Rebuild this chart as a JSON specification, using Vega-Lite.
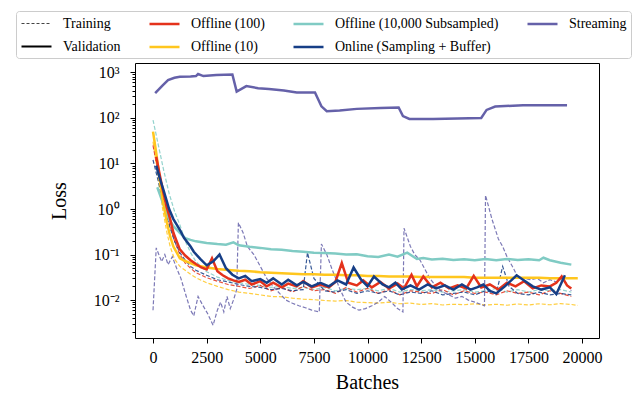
{
"$schema": "https://vega.github.io/schema/vega-lite/v6.json",
"width": 464, "height": 275,
"autosize": {"type": "none"},
"padding": {"left": 135, "top": 63, "right": 36, "bottom": 57},
"config": {
 "font": "Liberation Serif",
 "view": {"stroke": "black", "strokeWidth": 1},
 "axis": {"labelFont": "Liberation Serif", "titleFont": "Liberation Serif", "labelColor": "black", "titleColor": "black", "tickColor": "black", "domainColor": "black", "grid": false, "titleFontWeight": "normal", "labelFontSize": 16, "titleFontSize": 20}
},
"datasets": {"d": [
{"s":"t","k":"T","b":0,"v":90},{"s":"t","k":"T","b":250,"v":25},{"s":"t","k":"T","b":500,"v":7},{"s":"t","k":"T","b":750,"v":2.2},{"s":"t","k":"T","b":1000,"v":0.9},{"s":"t","k":"T","b":1250,"v":0.45},{"s":"t","k":"T","b":1500,"v":0.2},{"s":"t","k":"T","b":1750,"v":0.11},{"s":"t","k":"T","b":2000,"v":0.07},{"s":"t","k":"T","b":2500,"v":0.042},{"s":"t","k":"T","b":3000,"v":0.032},{"s":"t","k":"T","b":3500,"v":0.027},{"s":"t","k":"T","b":4000,"v":0.024},{"s":"t","k":"T","b":4500,"v":0.022},{"s":"t","k":"T","b":5000,"v":0.021},{"s":"t","k":"T","b":5500,"v":0.019},{"s":"t","k":"T","b":6000,"v":0.02},{"s":"t","k":"T","b":6500,"v":0.018},{"s":"t","k":"T","b":7000,"v":0.019},{"s":"t","k":"T","b":7500,"v":0.017},{"s":"t","k":"T","b":8000,"v":0.019},{"s":"t","k":"T","b":8500,"v":0.016},{"s":"t","k":"T","b":9000,"v":0.018},{"s":"t","k":"T","b":9500,"v":0.017},{"s":"t","k":"T","b":10000,"v":0.018},{"s":"t","k":"T","b":10500,"v":0.016},{"s":"t","k":"T","b":11000,"v":0.018},{"s":"t","k":"T","b":11500,"v":0.015},{"s":"t","k":"T","b":12000,"v":0.017},{"s":"t","k":"T","b":12500,"v":0.016},{"s":"t","k":"T","b":13000,"v":0.017},{"s":"t","k":"T","b":13500,"v":0.015},{"s":"t","k":"T","b":14000,"v":0.016},{"s":"t","k":"T","b":14500,"v":0.017},{"s":"t","k":"T","b":15000,"v":0.015},{"s":"t","k":"T","b":15500,"v":0.016},{"s":"t","k":"T","b":16000,"v":0.018},{"s":"t","k":"T","b":16500,"v":0.015},{"s":"t","k":"T","b":17000,"v":0.017},{"s":"t","k":"T","b":17500,"v":0.015},{"s":"t","k":"T","b":18000,"v":0.017},{"s":"t","k":"T","b":18500,"v":0.016},{"s":"t","k":"T","b":19000,"v":0.017},{"s":"t","k":"T","b":19500,"v":0.015},
{"s":"y","k":"T","b":0,"v":30},{"s":"y","k":"T","b":150,"v":10},{"s":"y","k":"T","b":300,"v":3},{"s":"y","k":"T","b":450,"v":1},{"s":"y","k":"T","b":650,"v":0.3},{"s":"y","k":"T","b":800,"v":0.15},{"s":"y","k":"T","b":1000,"v":0.08},{"s":"y","k":"T","b":1250,"v":0.055},{"s":"y","k":"T","b":1500,"v":0.045},{"s":"y","k":"T","b":1750,"v":0.037},{"s":"y","k":"T","b":2000,"v":0.031},{"s":"y","k":"T","b":2500,"v":0.024},{"s":"y","k":"T","b":3000,"v":0.02},{"s":"y","k":"T","b":3500,"v":0.017},{"s":"y","k":"T","b":4000,"v":0.015},{"s":"y","k":"T","b":4500,"v":0.014},{"s":"y","k":"T","b":5000,"v":0.013},{"s":"y","k":"T","b":5500,"v":0.012},{"s":"y","k":"T","b":6000,"v":0.0118},{"s":"y","k":"T","b":6500,"v":0.011},{"s":"y","k":"T","b":7000,"v":0.0105},{"s":"y","k":"T","b":7500,"v":0.0102},{"s":"y","k":"T","b":8000,"v":0.0098},{"s":"y","k":"T","b":8500,"v":0.0095},{"s":"y","k":"T","b":9000,"v":0.0098},{"s":"y","k":"T","b":9500,"v":0.009},{"s":"y","k":"T","b":10000,"v":0.0088},{"s":"y","k":"T","b":10500,"v":0.0086},{"s":"y","k":"T","b":11000,"v":0.009},{"s":"y","k":"T","b":11500,"v":0.0083},{"s":"y","k":"T","b":12000,"v":0.0086},{"s":"y","k":"T","b":12500,"v":0.008},{"s":"y","k":"T","b":13000,"v":0.0084},{"s":"y","k":"T","b":13500,"v":0.0078},{"s":"y","k":"T","b":14000,"v":0.0081},{"s":"y","k":"T","b":14500,"v":0.0079},{"s":"y","k":"T","b":15000,"v":0.0083},{"s":"y","k":"T","b":15500,"v":0.0078},{"s":"y","k":"T","b":16000,"v":0.0081},{"s":"y","k":"T","b":16500,"v":0.0077},{"s":"y","k":"T","b":17000,"v":0.0082},{"s":"y","k":"T","b":17500,"v":0.0078},{"s":"y","k":"T","b":18000,"v":0.0083},{"s":"y","k":"T","b":18500,"v":0.0079},{"s":"y","k":"T","b":19000,"v":0.0084},{"s":"y","k":"T","b":19500,"v":0.008},{"s":"y","k":"T","b":19800,"v":0.0076},
{"s":"r","k":"T","b":0,"v":25},{"s":"r","k":"T","b":250,"v":6},{"s":"r","k":"T","b":500,"v":1.5},{"s":"r","k":"T","b":750,"v":0.5},{"s":"r","k":"T","b":1000,"v":0.2},{"s":"r","k":"T","b":1250,"v":0.1},{"s":"r","k":"T","b":1500,"v":0.065},{"s":"r","k":"T","b":1750,"v":0.05},{"s":"r","k":"T","b":2000,"v":0.04},{"s":"r","k":"T","b":2500,"v":0.031},{"s":"r","k":"T","b":3000,"v":0.026},{"s":"r","k":"T","b":3500,"v":0.022},{"s":"r","k":"T","b":4000,"v":0.02},{"s":"r","k":"T","b":4500,"v":0.018},{"s":"r","k":"T","b":5000,"v":0.021},{"s":"r","k":"T","b":5500,"v":0.016},{"s":"r","k":"T","b":6000,"v":0.019},{"s":"r","k":"T","b":6500,"v":0.015},{"s":"r","k":"T","b":7000,"v":0.02},{"s":"r","k":"T","b":7500,"v":0.016},{"s":"r","k":"T","b":8000,"v":0.017},{"s":"r","k":"T","b":8500,"v":0.014},{"s":"r","k":"T","b":9000,"v":0.019},{"s":"r","k":"T","b":9500,"v":0.015},{"s":"r","k":"T","b":10000,"v":0.018},{"s":"r","k":"T","b":10500,"v":0.014},{"s":"r","k":"T","b":11000,"v":0.017},{"s":"r","k":"T","b":11500,"v":0.013},{"s":"r","k":"T","b":12000,"v":0.016},{"s":"r","k":"T","b":12500,"v":0.015},{"s":"r","k":"T","b":13000,"v":0.014},{"s":"r","k":"T","b":13500,"v":0.017},{"s":"r","k":"T","b":14000,"v":0.013},{"s":"r","k":"T","b":14500,"v":0.016},{"s":"r","k":"T","b":15000,"v":0.014},{"s":"r","k":"T","b":15500,"v":0.015},{"s":"r","k":"T","b":16000,"v":0.013},{"s":"r","k":"T","b":16500,"v":0.016},{"s":"r","k":"T","b":17000,"v":0.014},{"s":"r","k":"T","b":17500,"v":0.015},{"s":"r","k":"T","b":18000,"v":0.013},{"s":"r","k":"T","b":18500,"v":0.016},{"s":"r","k":"T","b":19000,"v":0.014},{"s":"r","k":"T","b":19500,"v":0.012},
{"s":"n","k":"T","b":0,"v":12},{"s":"n","k":"T","b":250,"v":4},{"s":"n","k":"T","b":500,"v":1.2},{"s":"n","k":"T","b":750,"v":0.45},{"s":"n","k":"T","b":1000,"v":0.2},{"s":"n","k":"T","b":1250,"v":0.11},{"s":"n","k":"T","b":1500,"v":0.075},{"s":"n","k":"T","b":1750,"v":0.055},{"s":"n","k":"T","b":2000,"v":0.045},{"s":"n","k":"T","b":2500,"v":0.035},{"s":"n","k":"T","b":3000,"v":0.028},{"s":"n","k":"T","b":3500,"v":0.025},{"s":"n","k":"T","b":4000,"v":0.022},{"s":"n","k":"T","b":4500,"v":0.02},{"s":"n","k":"T","b":5000,"v":0.019},{"s":"n","k":"T","b":5500,"v":0.017},{"s":"n","k":"T","b":6000,"v":0.018},{"s":"n","k":"T","b":6500,"v":0.016},{"s":"n","k":"T","b":7000,"v":0.017},{"s":"n","k":"T","b":7200,"v":0.11},{"s":"n","k":"T","b":7500,"v":0.03},{"s":"n","k":"T","b":8000,"v":0.016},{"s":"n","k":"T","b":8500,"v":0.015},{"s":"n","k":"T","b":9000,"v":0.017},{"s":"n","k":"T","b":9500,"v":0.014},{"s":"n","k":"T","b":10000,"v":0.016},{"s":"n","k":"T","b":10500,"v":0.014},{"s":"n","k":"T","b":11000,"v":0.016},{"s":"n","k":"T","b":11500,"v":0.013},{"s":"n","k":"T","b":12000,"v":0.015},{"s":"n","k":"T","b":12500,"v":0.014},{"s":"n","k":"T","b":13000,"v":0.016},{"s":"n","k":"T","b":13500,"v":0.013},{"s":"n","k":"T","b":14000,"v":0.014},{"s":"n","k":"T","b":14500,"v":0.015},{"s":"n","k":"T","b":15000,"v":0.013},{"s":"n","k":"T","b":15500,"v":0.016},{"s":"n","k":"T","b":16000,"v":0.014},{"s":"n","k":"T","b":16300,"v":0.055},{"s":"n","k":"T","b":16600,"v":0.02},{"s":"n","k":"T","b":17000,"v":0.014},{"s":"n","k":"T","b":17500,"v":0.013},{"s":"n","k":"T","b":18000,"v":0.015},{"s":"n","k":"T","b":18500,"v":0.013},{"s":"n","k":"T","b":19000,"v":0.014},{"s":"n","k":"T","b":19500,"v":0.013},
{"s":"p","k":"T","b":0,"v":0.006},{"s":"p","k":"T","b":150,"v":0.14},{"s":"p","k":"T","b":400,"v":0.07},{"s":"p","k":"T","b":550,"v":0.1},{"s":"p","k":"T","b":700,"v":0.06},{"s":"p","k":"T","b":900,"v":0.09},{"s":"p","k":"T","b":1100,"v":0.05},{"s":"p","k":"T","b":1300,"v":0.03},{"s":"p","k":"T","b":1550,"v":0.012},{"s":"p","k":"T","b":1750,"v":0.006},{"s":"p","k":"T","b":1900,"v":0.0045},{"s":"p","k":"T","b":2100,"v":0.012},{"s":"p","k":"T","b":2300,"v":0.008},{"s":"p","k":"T","b":2550,"v":0.005},{"s":"p","k":"T","b":2800,"v":0.0028},{"s":"p","k":"T","b":3000,"v":0.006},{"s":"p","k":"T","b":3150,"v":0.009},{"s":"p","k":"T","b":3300,"v":0.0055},{"s":"p","k":"T","b":3450,"v":0.012},{"s":"p","k":"T","b":3600,"v":0.0065},{"s":"p","k":"T","b":3750,"v":0.01},{"s":"p","k":"T","b":3900,"v":0.017},{"s":"p","k":"T","b":3980,"v":0.5},{"s":"p","k":"T","b":4200,"v":0.3},{"s":"p","k":"T","b":4400,"v":0.15},{"s":"p","k":"T","b":4700,"v":0.1},{"s":"p","k":"T","b":5000,"v":0.055},{"s":"p","k":"T","b":5300,"v":0.03},{"s":"p","k":"T","b":5600,"v":0.02},{"s":"p","k":"T","b":5900,"v":0.014},{"s":"p","k":"T","b":6200,"v":0.01},{"s":"p","k":"T","b":6500,"v":0.0085},{"s":"p","k":"T","b":6800,"v":0.0075},{"s":"p","k":"T","b":7100,"v":0.0068},{"s":"p","k":"T","b":7400,"v":0.006},{"s":"p","k":"T","b":7750,"v":0.0055},{"s":"p","k":"T","b":7850,"v":0.17},{"s":"p","k":"T","b":8100,"v":0.1},{"s":"p","k":"T","b":8350,"v":0.047},{"s":"p","k":"T","b":8700,"v":0.018},{"s":"p","k":"T","b":9000,"v":0.009},{"s":"p","k":"T","b":9300,"v":0.007},{"s":"p","k":"T","b":9600,"v":0.006},{"s":"p","k":"T","b":9900,"v":0.0065},{"s":"p","k":"T","b":10200,"v":0.0075},{"s":"p","k":"T","b":10500,"v":0.009},{"s":"p","k":"T","b":10800,"v":0.012},{"s":"p","k":"T","b":11100,"v":0.009},{"s":"p","k":"T","b":11400,"v":0.0065},{"s":"p","k":"T","b":11650,"v":0.0055},{"s":"p","k":"T","b":11700,"v":0.38},{"s":"p","k":"T","b":12000,"v":0.15},{"s":"p","k":"T","b":12200,"v":0.1},{"s":"p","k":"T","b":12450,"v":0.075},{"s":"p","k":"T","b":12700,"v":0.045},{"s":"p","k":"T","b":12900,"v":0.03},{"s":"p","k":"T","b":13200,"v":0.02},{"s":"p","k":"T","b":13500,"v":0.015},{"s":"p","k":"T","b":13800,"v":0.013},{"s":"p","k":"T","b":14100,"v":0.011},{"s":"p","k":"T","b":14400,"v":0.012},{"s":"p","k":"T","b":14700,"v":0.01},{"s":"p","k":"T","b":15000,"v":0.009},{"s":"p","k":"T","b":15300,"v":0.008},{"s":"p","k":"T","b":15450,"v":0.0075},{"s":"p","k":"T","b":15500,"v":2.0},{"s":"p","k":"T","b":15800,"v":0.6},{"s":"p","k":"T","b":16100,"v":0.22},{"s":"p","k":"T","b":16300,"v":0.15},{"s":"p","k":"T","b":16500,"v":0.09},{"s":"p","k":"T","b":16800,"v":0.05},{"s":"p","k":"T","b":17000,"v":0.032},{"s":"p","k":"T","b":17300,"v":0.03},{"s":"p","k":"T","b":17600,"v":0.028},{"s":"p","k":"T","b":17900,"v":0.03},{"s":"p","k":"T","b":18200,"v":0.024},{"s":"p","k":"T","b":18500,"v":0.028},{"s":"p","k":"T","b":18800,"v":0.025},{"s":"p","k":"T","b":19100,"v":0.03},{"s":"p","k":"T","b":19300,"v":0.022},{"s":"p","k":"T","b":19500,"v":0.016},
{"s":"t","k":"V","b":200,"v":3},{"s":"t","k":"V","b":500,"v":1.2},{"s":"t","k":"V","b":750,"v":0.6},{"s":"t","k":"V","b":950,"v":0.42},{"s":"t","k":"V","b":1250,"v":0.3},{"s":"t","k":"V","b":1500,"v":0.23},{"s":"t","k":"V","b":1750,"v":0.21},{"s":"t","k":"V","b":2000,"v":0.195},{"s":"t","k":"V","b":2500,"v":0.18},{"s":"t","k":"V","b":3000,"v":0.17},{"s":"t","k":"V","b":3400,"v":0.165},{"s":"t","k":"V","b":3750,"v":0.185},{"s":"t","k":"V","b":4000,"v":0.16},{"s":"t","k":"V","b":4500,"v":0.148},{"s":"t","k":"V","b":5000,"v":0.14},{"s":"t","k":"V","b":5500,"v":0.13},{"s":"t","k":"V","b":6000,"v":0.128},{"s":"t","k":"V","b":6500,"v":0.12},{"s":"t","k":"V","b":7000,"v":0.115},{"s":"t","k":"V","b":7500,"v":0.11},{"s":"t","k":"V","b":8000,"v":0.108},{"s":"t","k":"V","b":8500,"v":0.105},{"s":"t","k":"V","b":9000,"v":0.1},{"s":"t","k":"V","b":9500,"v":0.102},{"s":"t","k":"V","b":10000,"v":0.092},{"s":"t","k":"V","b":10500,"v":0.088},{"s":"t","k":"V","b":11000,"v":0.1},{"s":"t","k":"V","b":11400,"v":0.09},{"s":"t","k":"V","b":11850,"v":0.11},{"s":"t","k":"V","b":12300,"v":0.08},{"s":"t","k":"V","b":12600,"v":0.084},{"s":"t","k":"V","b":13000,"v":0.078},{"s":"t","k":"V","b":13500,"v":0.081},{"s":"t","k":"V","b":14000,"v":0.076},{"s":"t","k":"V","b":14500,"v":0.079},{"s":"t","k":"V","b":15000,"v":0.075},{"s":"t","k":"V","b":15500,"v":0.08},{"s":"t","k":"V","b":16000,"v":0.075},{"s":"t","k":"V","b":16500,"v":0.08},{"s":"t","k":"V","b":17000,"v":0.076},{"s":"t","k":"V","b":17500,"v":0.079},{"s":"t","k":"V","b":18000,"v":0.075},{"s":"t","k":"V","b":18200,"v":0.085},{"s":"t","k":"V","b":18500,"v":0.075},{"s":"t","k":"V","b":19000,"v":0.066},{"s":"t","k":"V","b":19500,"v":0.06},
{"s":"y","k":"V","b":0,"v":50},{"s":"y","k":"V","b":150,"v":17},{"s":"y","k":"V","b":300,"v":5},{"s":"y","k":"V","b":450,"v":1.6},{"s":"y","k":"V","b":650,"v":0.5},{"s":"y","k":"V","b":800,"v":0.25},{"s":"y","k":"V","b":950,"v":0.15},{"s":"y","k":"V","b":1250,"v":0.083},{"s":"y","k":"V","b":1500,"v":0.072},{"s":"y","k":"V","b":1750,"v":0.065},{"s":"y","k":"V","b":2000,"v":0.058},{"s":"y","k":"V","b":2500,"v":0.052},{"s":"y","k":"V","b":3000,"v":0.048},{"s":"y","k":"V","b":3500,"v":0.046},{"s":"y","k":"V","b":4000,"v":0.044},{"s":"y","k":"V","b":4500,"v":0.043},{"s":"y","k":"V","b":5000,"v":0.041},{"s":"y","k":"V","b":5500,"v":0.04},{"s":"y","k":"V","b":6000,"v":0.039},{"s":"y","k":"V","b":6500,"v":0.038},{"s":"y","k":"V","b":7000,"v":0.037},{"s":"y","k":"V","b":7500,"v":0.037},{"s":"y","k":"V","b":8000,"v":0.036},{"s":"y","k":"V","b":8500,"v":0.036},{"s":"y","k":"V","b":9000,"v":0.035},{"s":"y","k":"V","b":9500,"v":0.035},{"s":"y","k":"V","b":10000,"v":0.034},{"s":"y","k":"V","b":10500,"v":0.034},{"s":"y","k":"V","b":11000,"v":0.033},{"s":"y","k":"V","b":11500,"v":0.033},{"s":"y","k":"V","b":12000,"v":0.033},{"s":"y","k":"V","b":12500,"v":0.032},{"s":"y","k":"V","b":13000,"v":0.032},{"s":"y","k":"V","b":13500,"v":0.032},{"s":"y","k":"V","b":14000,"v":0.032},{"s":"y","k":"V","b":14500,"v":0.032},{"s":"y","k":"V","b":15000,"v":0.031},{"s":"y","k":"V","b":15500,"v":0.031},{"s":"y","k":"V","b":16000,"v":0.031},{"s":"y","k":"V","b":16500,"v":0.031},{"s":"y","k":"V","b":17000,"v":0.031},{"s":"y","k":"V","b":17500,"v":0.031},{"s":"y","k":"V","b":18000,"v":0.031},{"s":"y","k":"V","b":18500,"v":0.03},{"s":"y","k":"V","b":19000,"v":0.03},{"s":"y","k":"V","b":19500,"v":0.03},{"s":"y","k":"V","b":19800,"v":0.03},
{"s":"r","k":"V","b":150,"v":14},{"s":"r","k":"V","b":300,"v":6},{"s":"r","k":"V","b":480,"v":2.3},{"s":"r","k":"V","b":640,"v":1.1},{"s":"r","k":"V","b":800,"v":0.6},{"s":"r","k":"V","b":950,"v":0.3},{"s":"r","k":"V","b":1250,"v":0.13},{"s":"r","k":"V","b":1500,"v":0.095},{"s":"r","k":"V","b":1750,"v":0.075},{"s":"r","k":"V","b":2000,"v":0.062},{"s":"r","k":"V","b":2250,"v":0.052},{"s":"r","k":"V","b":2500,"v":0.047},{"s":"r","k":"V","b":2750,"v":0.083},{"s":"r","k":"V","b":3000,"v":0.043},{"s":"r","k":"V","b":3250,"v":0.035},{"s":"r","k":"V","b":3500,"v":0.03},{"s":"r","k":"V","b":3750,"v":0.027},{"s":"r","k":"V","b":4000,"v":0.025},{"s":"r","k":"V","b":4300,"v":0.028},{"s":"r","k":"V","b":4600,"v":0.022},{"s":"r","k":"V","b":5000,"v":0.026},{"s":"r","k":"V","b":5300,"v":0.02},{"s":"r","k":"V","b":5600,"v":0.024},{"s":"r","k":"V","b":6000,"v":0.019},{"s":"r","k":"V","b":6300,"v":0.023},{"s":"r","k":"V","b":6700,"v":0.02},{"s":"r","k":"V","b":7000,"v":0.026},{"s":"r","k":"V","b":7400,"v":0.019},{"s":"r","k":"V","b":7800,"v":0.022},{"s":"r","k":"V","b":8200,"v":0.019},{"s":"r","k":"V","b":8500,"v":0.025},{"s":"r","k":"V","b":8800,"v":0.065},{"s":"r","k":"V","b":9100,"v":0.024},{"s":"r","k":"V","b":9500,"v":0.021},{"s":"r","k":"V","b":9800,"v":0.027},{"s":"r","k":"V","b":10200,"v":0.019},{"s":"r","k":"V","b":10600,"v":0.025},{"s":"r","k":"V","b":11000,"v":0.018},{"s":"r","k":"V","b":11400,"v":0.023},{"s":"r","k":"V","b":11700,"v":0.018},{"s":"r","k":"V","b":12050,"v":0.036},{"s":"r","k":"V","b":12300,"v":0.02},{"s":"r","k":"V","b":12600,"v":0.033},{"s":"r","k":"V","b":13000,"v":0.019},{"s":"r","k":"V","b":13400,"v":0.024},{"s":"r","k":"V","b":13800,"v":0.018},{"s":"r","k":"V","b":14200,"v":0.021},{"s":"r","k":"V","b":14600,"v":0.018},{"s":"r","k":"V","b":14950,"v":0.034},{"s":"r","k":"V","b":15300,"v":0.019},{"s":"r","k":"V","b":15700,"v":0.022},{"s":"r","k":"V","b":16100,"v":0.017},{"s":"r","k":"V","b":16500,"v":0.024},{"s":"r","k":"V","b":16900,"v":0.02},{"s":"r","k":"V","b":17300,"v":0.026},{"s":"r","k":"V","b":17700,"v":0.018},{"s":"r","k":"V","b":18100,"v":0.021},{"s":"r","k":"V","b":18500,"v":0.02},{"s":"r","k":"V","b":18800,"v":0.024},{"s":"r","k":"V","b":19050,"v":0.033},{"s":"r","k":"V","b":19300,"v":0.021},{"s":"r","k":"V","b":19500,"v":0.018},
{"s":"n","k":"V","b":150,"v":9},{"s":"n","k":"V","b":300,"v":5},{"s":"n","k":"V","b":500,"v":2.5},{"s":"n","k":"V","b":750,"v":1.0},{"s":"n","k":"V","b":950,"v":0.6},{"s":"n","k":"V","b":1250,"v":0.35},{"s":"n","k":"V","b":1450,"v":0.23},{"s":"n","k":"V","b":1750,"v":0.15},{"s":"n","k":"V","b":1900,"v":0.115},{"s":"n","k":"V","b":2200,"v":0.08},{"s":"n","k":"V","b":2500,"v":0.058},{"s":"n","k":"V","b":2800,"v":0.07},{"s":"n","k":"V","b":3100,"v":0.1},{"s":"n","k":"V","b":3400,"v":0.05},{"s":"n","k":"V","b":3700,"v":0.036},{"s":"n","k":"V","b":4000,"v":0.03},{"s":"n","k":"V","b":4300,"v":0.034},{"s":"n","k":"V","b":4600,"v":0.026},{"s":"n","k":"V","b":5000,"v":0.029},{"s":"n","k":"V","b":5300,"v":0.024},{"s":"n","k":"V","b":5600,"v":0.03},{"s":"n","k":"V","b":6000,"v":0.022},{"s":"n","k":"V","b":6300,"v":0.028},{"s":"n","k":"V","b":6700,"v":0.021},{"s":"n","k":"V","b":7000,"v":0.025},{"s":"n","k":"V","b":7400,"v":0.02},{"s":"n","k":"V","b":7800,"v":0.024},{"s":"n","k":"V","b":8200,"v":0.02},{"s":"n","k":"V","b":8600,"v":0.027},{"s":"n","k":"V","b":9000,"v":0.022},{"s":"n","k":"V","b":9350,"v":0.052},{"s":"n","k":"V","b":9700,"v":0.028},{"s":"n","k":"V","b":10000,"v":0.02},{"s":"n","k":"V","b":10300,"v":0.033},{"s":"n","k":"V","b":10700,"v":0.022},{"s":"n","k":"V","b":11000,"v":0.019},{"s":"n","k":"V","b":11300,"v":0.024},{"s":"n","k":"V","b":11600,"v":0.017},{"s":"n","k":"V","b":12000,"v":0.021},{"s":"n","k":"V","b":12400,"v":0.017},{"s":"n","k":"V","b":12800,"v":0.022},{"s":"n","k":"V","b":13200,"v":0.018},{"s":"n","k":"V","b":13600,"v":0.021},{"s":"n","k":"V","b":14000,"v":0.017},{"s":"n","k":"V","b":14400,"v":0.022},{"s":"n","k":"V","b":14800,"v":0.017},{"s":"n","k":"V","b":15100,"v":0.019},{"s":"n","k":"V","b":15400,"v":0.022},{"s":"n","k":"V","b":15700,"v":0.016},{"s":"n","k":"V","b":16000,"v":0.014},{"s":"n","k":"V","b":16400,"v":0.02},{"s":"n","k":"V","b":16950,"v":0.035},{"s":"n","k":"V","b":17300,"v":0.027},{"s":"n","k":"V","b":17700,"v":0.02},{"s":"n","k":"V","b":18100,"v":0.017},{"s":"n","k":"V","b":18500,"v":0.019},{"s":"n","k":"V","b":18800,"v":0.0135},{"s":"n","k":"V","b":19200,"v":0.035},
{"s":"p","k":"V","b":100,"v":350},{"s":"p","k":"V","b":450,"v":520},{"s":"p","k":"V","b":700,"v":680},{"s":"p","k":"V","b":1000,"v":760},{"s":"p","k":"V","b":1250,"v":800},{"s":"p","k":"V","b":1750,"v":810},{"s":"p","k":"V","b":2000,"v":830},{"s":"p","k":"V","b":2100,"v":920},{"s":"p","k":"V","b":2350,"v":830},{"s":"p","k":"V","b":2950,"v":880},{"s":"p","k":"V","b":3700,"v":900},{"s":"p","k":"V","b":3900,"v":380},{"s":"p","k":"V","b":4350,"v":500},{"s":"p","k":"V","b":4900,"v":450},{"s":"p","k":"V","b":5400,"v":430},{"s":"p","k":"V","b":6100,"v":400},{"s":"p","k":"V","b":6700,"v":360},{"s":"p","k":"V","b":7550,"v":360},{"s":"p","k":"V","b":7850,"v":180},{"s":"p","k":"V","b":8100,"v":140},{"s":"p","k":"V","b":8700,"v":145},{"s":"p","k":"V","b":9500,"v":158},{"s":"p","k":"V","b":10600,"v":165},{"s":"p","k":"V","b":11450,"v":170},{"s":"p","k":"V","b":11650,"v":110},{"s":"p","k":"V","b":11950,"v":95},{"s":"p","k":"V","b":13050,"v":95},{"s":"p","k":"V","b":15300,"v":100},{"s":"p","k":"V","b":15550,"v":150},{"s":"p","k":"V","b":15950,"v":178},{"s":"p","k":"V","b":17250,"v":190},{"s":"p","k":"V","b":19300,"v":190}
]},
"resolve": {"scale": {"color": "independent", "strokeDash": "independent", "strokeWidth": "independent"}, "axis": {"y": "independent"}},
"layer": [
 {
  "data": {"name": "d"},
  "transform": [{"filter": "datum.k == 'T'"}],
  "mark": {"type": "line", "strokeWidth": 1.2, "strokeDash": [4, 2], "opacity": 0.85},
  "encoding": {
   "x": {"field": "b", "type": "quantitative", "scale": {"domain": [-840, 20790], "nice": false, "zero": false}},
   "y": {"field": "v", "type": "quantitative", "scale": {"type": "log", "domain": [0.00147, 1607], "nice": false}, "axis": null},
   "color": {"field": "s", "type": "nominal", "scale": {"domain": ["t", "y", "r", "n", "p"], "range": ["#80cbc4", "#ffc61e", "#e4321b", "#163e86", "#6561a9"]}, "legend": null}
  }
 },
 {
  "data": {"name": "d"},
  "transform": [{"filter": "datum.k == 'V'"}],
  "mark": {"type": "line", "strokeWidth": 2.5},
  "encoding": {
   "x": {"field": "b", "type": "quantitative", "scale": {"domain": [-840, 20790], "nice": false, "zero": false}, "axis": {"values": [0, 2500, 5000, 7500, 10000, 12500, 15000, 17500, 20000], "format": "d", "labelOverlap": false, "labelFlush": false, "tickSize": 5, "labelPadding": 6, "domain": false, "title": "Batches", "titlePadding": 7}},
   "y": {"field": "v", "type": "quantitative", "scale": {"type": "log", "domain": [0.00147, 1607], "nice": false}, "axis": {"orient": "left", "values": [0.01, 0.1, 1, 10, 100, 1000], "labelExpr": "datum.value > 500 ? '10³' : datum.value > 50 ? '10²' : datum.value > 5 ? '10¹' : datum.value > 0.5 ? '10⁰' : datum.value > 0.05 ? '10⁻¹' : '10⁻²'", "tickSize": 5, "labelPadding": 11, "domain": false, "title": "Loss", "titlePadding": 24}},
   "color": {"field": "s", "type": "nominal", "scale": {"domain": ["t", "y", "r", "n", "p"], "range": ["#80cbc4", "#ffc61e", "#e4321b", "#163e86", "#6561a9"]}, "legend": null}
  }
 },
 {
  "data": {"name": "d"},
  "transform": [{"filter": "datum.k == 'none'"}],
  "mark": {"type": "line"},
  "encoding": {
   "x": {"field": "b", "type": "quantitative", "scale": {"domain": [-840, 20790], "nice": false, "zero": false}},
   "y": {"field": "v", "type": "quantitative", "scale": {"type": "log", "domain": [0.00147, 1607], "nice": false}, "axis": {"orient": "left", "values": [0.002,0.003,0.004,0.005,0.006,0.007,0.008,0.009,0.02,0.03,0.04,0.05,0.06,0.07,0.08,0.09,0.2,0.3,0.4,0.5,0.6,0.7,0.8,0.9,2,3,4,5,6,7,8,9,20,30,40,50,60,70,80,90,200,300,400,500,600,700,800,900], "labels": false, "tickSize": 3, "domain": false, "grid": false, "title": null}},
   "color": {"field": "e", "type": "nominal", "scale": {"domain": ["Training", "Offline (100)", "Offline (10,000 Subsampled)", "Streaming", "Validation", "Offline (10)", "Online (Sampling + Buffer)"], "range": ["#444444", "#e4321b", "#80cbc4", "#6561a9", "#000000", "#ffc61e", "#163e86"]},
     "legend": {"orient": "none", "legendX": -119, "legendY": -52, "direction": "horizontal", "columns": 4, "title": null, "labelFont": "Liberation Serif", "labelFontSize": 14, "labelColor": "black", "symbolType": "M-1,0H3", "symbolSize": 225, "labelOffset": 25, "columnPadding": 23, "rowPadding": 7, "padding": 4, "strokeColor": "#cccccc", "fillColor": "white", "cornerRadius": 3, "labelLimit": 300}},
   "strokeDash": {"field": "e", "type": "nominal", "scale": {"domain": ["Training", "Offline (100)", "Offline (10,000 Subsampled)", "Streaming", "Validation", "Offline (10)", "Online (Sampling + Buffer)"], "range": [[3, 2], [1, 0], [1, 0], [1, 0], [1, 0], [1, 0], [1, 0]]},
     "legend": {"orient": "none", "legendX": -119, "legendY": -52, "direction": "horizontal", "columns": 4, "title": null, "labelFont": "Liberation Serif", "labelFontSize": 14, "labelColor": "black", "symbolType": "M-1,0H3", "symbolSize": 225, "labelOffset": 25, "columnPadding": 23, "rowPadding": 7, "padding": 4, "strokeColor": "#cccccc", "fillColor": "white", "cornerRadius": 3, "labelLimit": 300}},
   "strokeWidth": {"field": "e", "type": "nominal", "scale": {"type": "ordinal", "domain": ["Training", "Offline (100)", "Offline (10,000 Subsampled)", "Streaming", "Validation", "Offline (10)", "Online (Sampling + Buffer)"], "range": [1, 2.5, 2.5, 2.5, 1.8, 2.5, 2.5]},
     "legend": {"orient": "none", "legendX": -119, "legendY": -52, "direction": "horizontal", "columns": 4, "title": null, "labelFont": "Liberation Serif", "labelFontSize": 14, "labelColor": "black", "symbolType": "M-1,0H3", "symbolSize": 225, "labelOffset": 25, "columnPadding": 23, "rowPadding": 7, "padding": 4, "strokeColor": "#cccccc", "fillColor": "white", "cornerRadius": 3, "labelLimit": 300}}
  }
 }
]
}
